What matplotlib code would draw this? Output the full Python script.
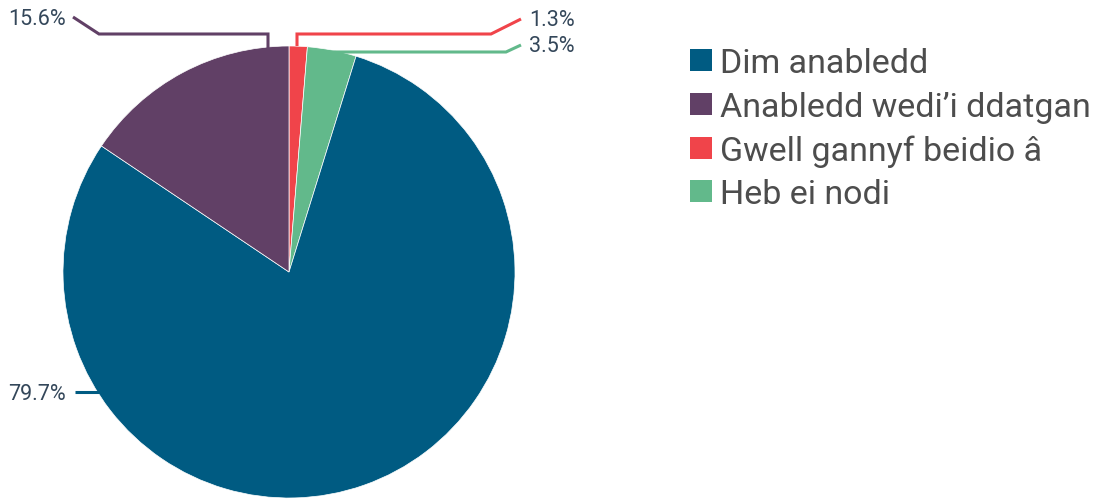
import matplotlib
matplotlib.use("Agg")
import matplotlib.pyplot as plt
import numpy as np
from matplotlib.patches import Rectangle

categories = ["Dim anabledd", "Anabledd wedi\u2019i ddatgan", "Gwell gannyf beidio \u00e2", "Heb ei nodi"]
values = [79.7, 15.6, 1.3, 3.5]
labels = ["79.7%", "15.6%", "1.3%", "3.5%"]
colors = ["#005b82", "#614066", "#f0444a", "#62b98b"]
# drawing order clockwise from top
order = [2, 3, 0, 1]

W, H = 1106, 499
fig = plt.figure(figsize=(W / 100, H / 100), dpi=100)
ax = fig.add_axes([0, 0, 1, 1])

cx, cy, r = 289, H - 272, 226
ax.pie([values[i] for i in order], colors=[colors[i] for i in order],
       startangle=90, counterclock=False, center=(cx, cy), radius=r,
       wedgeprops=dict(linewidth=0.5, edgecolor="white"), frame=True)
ax.set_xlim(0, W)
ax.set_ylim(0, H)
ax.set_aspect("equal")
ax.axis("off")

font = "Roboto"
lab_col = "#34475a"
fs_lab = 15.5

def py(y):
    return H - y

# leader lines (pixel paths)
leaders = {
    1: [(268, 48), (268, 34), (99, 34), (73, 17)],
    2: [(297, 46), (297, 34), (491, 34), (521, 19)],
    3: [(310, 52), (506, 52), (521, 45)],
    0: [(100, 392), (75, 392)],
}
text_pos = {1: (66, 17, "right"), 2: (529, 18, "left"), 3: (529, 44, "left"), 0: (66, 392, "right")}
for i, pts in leaders.items():
    xs = [p[0] for p in pts]
    ys = [py(p[1]) for p in pts]
    ax.plot(xs, ys, color=colors[i], lw=2.2, solid_capstyle="butt", solid_joinstyle="miter")
    tx, ty, ha = text_pos[i]
    ax.text(tx, py(ty), labels[i], ha=ha, va="center_baseline", fontsize=fs_lab,
            color=lab_col, family=font)

# legend (manual, pixel layout)
leg_y = [60, 104, 148, 191]
for k, (name, c) in enumerate(zip(categories, colors)):
    yc = py(leg_y[k])
    ax.add_patch(Rectangle((690, yc - 11), 22, 22, facecolor=c, edgecolor="none"))
    ax.text(720, yc, name, ha="left", va="center_baseline", fontsize=24.5,
            color="#4d4d4d", family=font)

fig.savefig("out.png", dpi=100)
